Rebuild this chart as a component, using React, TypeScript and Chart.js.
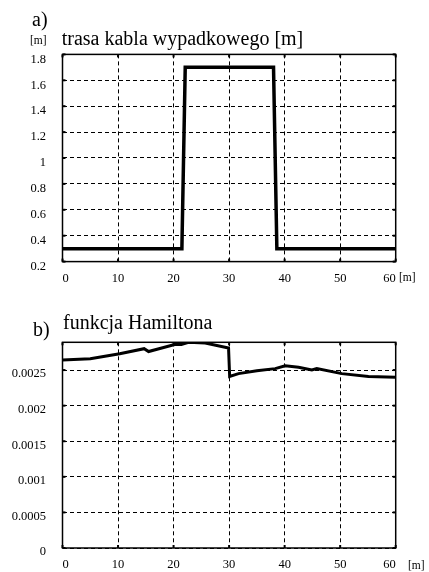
import { useEffect, useRef } from "react";
import { Chart, registerables } from "chart.js";

Chart.register(...registerables);

// a) trasa kabla wypadkowego
const routeX = [0, 21.5, 22.1, 38.0, 38.6, 60];
const routeY = [0.3, 0.3, 1.7, 1.7, 0.3, 0.3];

// b) funkcja Hamiltona
const hamX = [0, 5, 10.3, 14.7, 15.5, 20.2, 21.4, 22.7, 25.7, 29.9, 30.1, 31.7, 35, 38.3, 40.1, 42.5, 44.9, 45.8, 50.3, 55.1, 60];
const hamY = [
  0.00264, 0.00266, 0.00273, 0.0028, 0.00276, 0.00286, 0.00286, 0.00289, 0.00288, 0.00281,
  0.00241, 0.00245, 0.00249, 0.00252, 0.00256, 0.00254, 0.0025, 0.00252, 0.00245, 0.00241, 0.0024,
];

const FONT = "'Liberation Serif', 'Times New Roman', serif";

// solid frame round the plot + small marks where grid lines meet it
const framePlugin = {
  id: "frame",
  afterDraw(chart: Chart) {
    const { ctx, chartArea, scales } = chart;
    const { left, top, right, bottom } = chartArea;
    ctx.save();
    ctx.strokeStyle = "#000";
    ctx.lineWidth = 1.5;
    ctx.strokeRect(left, top, right - left, bottom - top);
    ctx.fillStyle = "#000";
    for (const t of scales.y.ticks) {
      const py = scales.y.getPixelForValue(t.value);
      ctx.fillRect(left, py - 1, 3, 2);
      ctx.fillRect(right - 3, py - 1, 3, 2);
    }
    for (const t of scales.x.ticks) {
      const px = scales.x.getPixelForValue(t.value);
      ctx.fillRect(px - 1, bottom - 3, 2, 3);
      ctx.fillRect(px - 1, top, 2, 3);
    }
    ctx.restore();
  },
};

const trimNum = (v: number | string) => String(Number(Number(v).toFixed(5)));

function makeOptions(o: {
  yMin: number;
  yMax: number;
  yStep: number;
  top: number;
  xHeight: number;
  xPad: number;
  yOffset: number;
}) {
  return {
    animation: false as const,
    responsive: false,
    layout: { padding: { left: 0, top: o.top, right: 33.3, bottom: 0 } },
    plugins: { legend: { display: false }, tooltip: { enabled: false } },
    elements: { point: { radius: 0 } },
    scales: {
      x: {
        type: "linear" as const,
        min: 0,
        max: 60,
        afterFit: (s: any) => {
          s.height = o.xHeight;
        },
        ticks: {
          stepSize: 10,
          color: "#000",
          padding: o.xPad,
          align: "inner" as const,
          maxRotation: 0,
          font: { family: FONT, size: 12.5 },
        },
        grid: { color: "#000", lineWidth: 1, drawTicks: false },
        border: { display: false, dash: [4, 3] },
      },
      y: {
        min: o.yMin,
        max: o.yMax,
        afterFit: (s: any) => {
          s.width = 62.5;
        },
        ticks: {
          stepSize: o.yStep,
          includeBounds: false,
          color: "#000",
          padding: 16.5,
          labelOffset: o.yOffset,
          font: { family: FONT, size: 12.5 },
          callback: (v: number | string) => trimNum(v),
        },
        grid: { color: "#000", lineWidth: 1, drawTicks: false },
        border: { display: false, dash: [4, 3] },
      },
    },
  };
}

const textBase: React.CSSProperties = {
  position: "absolute",
  fontFamily: FONT,
  lineHeight: 1,
  color: "#000",
  whiteSpace: "nowrap",
};

export default function App() {
  const refA = useRef<HTMLCanvasElement>(null);
  const refB = useRef<HTMLCanvasElement>(null);

  useEffect(() => {
    if (!refA.current || !refB.current) return;

    const chartA = new Chart(refA.current, {
      type: "line",
      data: {
        datasets: [
          {
            data: routeX.map((x, i) => ({ x, y: routeY[i] })),
            borderColor: "#000",
            borderWidth: 3.5,
            tension: 0,
          },
        ],
      },
      options: makeOptions({ yMin: 0.2, yMax: 1.8, yStep: 0.2, top: 54.4, xHeight: 28.4, xPad: 10, yOffset: 5 }) as any,
      plugins: [framePlugin],
    });

    const chartB = new Chart(refB.current, {
      type: "line",
      data: {
        datasets: [
          {
            data: hamX.map((x, i) => ({ x, y: hamY[i] })),
            borderColor: "#000",
            borderWidth: 3,
            tension: 0,
          },
        ],
      },
      options: makeOptions({ yMin: 0, yMax: 0.00289, yStep: 0.0005, top: 52.3, xHeight: 22, xPad: 9, yOffset: 4 }) as any,
      plugins: [framePlugin],
    });

    return () => {
      chartA.destroy();
      chartB.destroy();
    };
  }, []);

  return (
    <div style={{ position: "absolute", left: 0, top: 0, width: 429, height: 572, background: "#fff", overflow: "hidden" }}>
      <canvas ref={refA} width={429} height={290} style={{ position: "absolute", left: 0, top: 0 }} />
      <canvas ref={refB} width={429} height={282} style={{ position: "absolute", left: 0, top: 290 }} />

      <div style={{ ...textBase, left: 32, top: 8.5, fontSize: 20 }}>a)</div>
      <div style={{ ...textBase, left: 30, top: 34.5, fontSize: 11.5 }}>[m]</div>
      <div style={{ ...textBase, left: 61.7, top: 28.3, fontSize: 20 }}>trasa kabla wypadkowego [m]</div>
      <div style={{ ...textBase, left: 399, top: 272, fontSize: 11.5 }}>[m]</div>

      <div style={{ ...textBase, left: 33, top: 318.7, fontSize: 20 }}>b)</div>
      <div style={{ ...textBase, left: 63, top: 312.3, fontSize: 20 }}>funkcja Hamiltona</div>
      <div style={{ ...textBase, left: 408, top: 559.5, fontSize: 11.5 }}>[m]</div>
    </div>
  );
}
